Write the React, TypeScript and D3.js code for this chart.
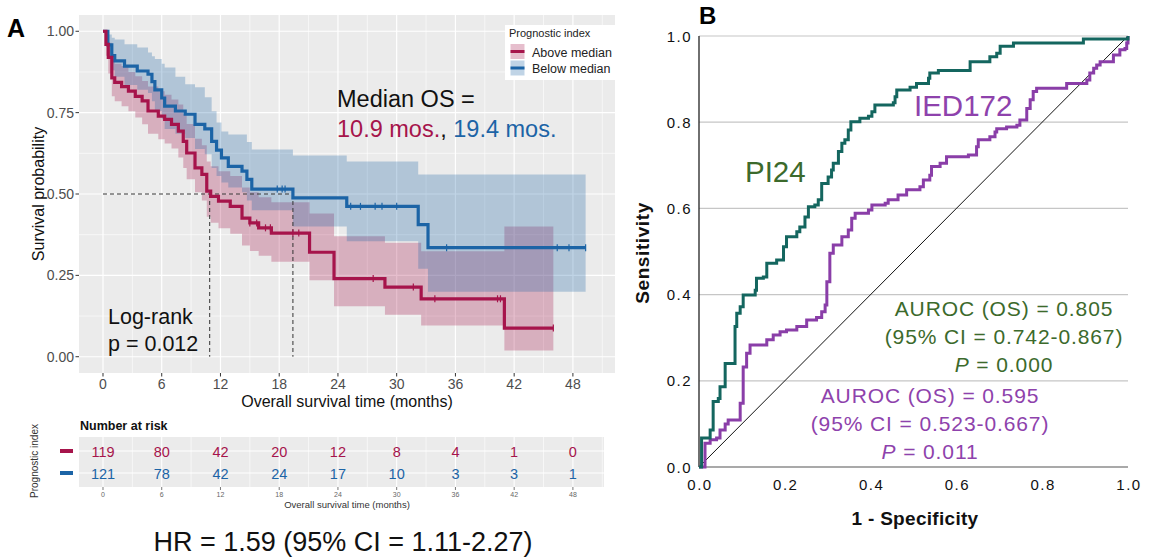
import React, { useEffect, useRef } from 'react';
import * as d3 from 'd3';

const W = 1150;
const H = 558;
const FONT = "'Liberation Sans', Arial, Helvetica, sans-serif";

// ---- Panel A: Kaplan-Meier, prognostic index above / below median ----
const aboveTime = [0, 0.3, 0.54, 0.9, 1.2, 1.9, 2.6, 3.3, 4.0, 4.6, 5.65, 6.3, 7.0, 7.7, 8.2, 8.55, 9.4, 10.1, 10.6, 11.0, 11.8, 13.0, 14.2, 15.0, 15.9, 17.2, 21.1, 23.6, 28.8, 32.5, 41.0, 46.0];
const aboveSurv = [1, 0.96, 0.92, 0.857, 0.843, 0.83, 0.816, 0.8, 0.786, 0.755, 0.739, 0.729, 0.714, 0.693, 0.662, 0.626, 0.58, 0.56, 0.509, 0.493, 0.478, 0.462, 0.426, 0.411, 0.396, 0.38, 0.321, 0.24, 0.214, 0.178, 0.088, 0.088];
const aboveLower = [1, 0.925, 0.87, 0.8, 0.785, 0.77, 0.754, 0.735, 0.714, 0.685, 0.668, 0.655, 0.64, 0.612, 0.58, 0.545, 0.505, 0.48, 0.43, 0.412, 0.395, 0.378, 0.342, 0.325, 0.31, 0.292, 0.235, 0.155, 0.129, 0.096, 0.019, 0.019];
const aboveUpper = [1, 0.99, 0.965, 0.915, 0.9, 0.893, 0.875, 0.862, 0.847, 0.83, 0.816, 0.805, 0.79, 0.775, 0.745, 0.715, 0.67, 0.65, 0.6, 0.585, 0.57, 0.555, 0.52, 0.505, 0.49, 0.475, 0.44, 0.37, 0.35, 0.324, 0.4, 0.4];
const aboveCensor = [15.0, 15.7, 16.6, 17.1, 19.4, 20.0, 27.6, 31.7, 33.9, 40.3, 40.6, 46.0];

const belowTime = [0, 0.5, 0.9, 1.2, 2.2, 3.5, 4.6, 5.0, 5.3, 6.0, 6.3, 7.4, 8.4, 9.4, 10.4, 11.1, 11.6, 12.1, 12.8, 14.2, 14.7, 15.2, 19.4, 24.9, 32.2, 33.2, 49.3];
const belowSurv = [1, 0.958, 0.925, 0.909, 0.893, 0.878, 0.868, 0.845, 0.82, 0.795, 0.77, 0.755, 0.745, 0.714, 0.7, 0.662, 0.635, 0.611, 0.585, 0.57, 0.545, 0.515, 0.488, 0.462, 0.406, 0.335, 0.335];
const belowLower = [1, 0.92, 0.88, 0.86, 0.835, 0.82, 0.81, 0.785, 0.755, 0.73, 0.7, 0.685, 0.672, 0.638, 0.622, 0.58, 0.555, 0.535, 0.52, 0.505, 0.48, 0.45, 0.4, 0.355, 0.27, 0.2, 0.2];
const belowUpper = [1, 0.99, 0.98, 0.975, 0.96, 0.95, 0.935, 0.923, 0.915, 0.9, 0.889, 0.86, 0.837, 0.828, 0.797, 0.754, 0.72, 0.692, 0.683, 0.683, 0.66, 0.637, 0.618, 0.6, 0.56, 0.56, 0.56];
const belowCensor = [17.8, 18.3, 18.6, 25.3, 26.3, 27.8, 28.5, 30.0, 35.1, 46.4, 47.6, 49.3];

const medianAbove = 10.9;
const medianBelow = 19.4;

const monthTicks = [0, 6, 12, 18, 24, 30, 36, 42, 48];
const survTicks = [0, 0.25, 0.5, 0.75, 1];
const riskAbove = [119, 80, 42, 20, 12, 8, 4, 1, 0];
const riskBelow = [121, 78, 42, 24, 17, 10, 3, 3, 1];

// ---- Panel B: ROC curves ----
const pi24Fpr = [0, 0.002, 0.006, 0.026, 0.033, 0.045, 0.049, 0.061, 0.084, 0.088, 0.096, 0.103, 0.131, 0.134, 0.15, 0.158, 0.181, 0.197, 0.204, 0.228, 0.235, 0.247, 0.255, 0.27, 0.278, 0.286, 0.301, 0.309, 0.313, 0.325, 0.333, 0.34, 0.348, 0.354, 0.375, 0.395, 0.403, 0.41, 0.453, 0.457, 0.461, 0.492, 0.507, 0.535, 0.538, 0.558, 0.632, 0.678, 0.694, 0.702, 0.733, 0.896, 1.0];
const pi24Tpr = [0, 0, 0.067, 0.086, 0.152, 0.159, 0.186, 0.24, 0.326, 0.357, 0.372, 0.399, 0.41, 0.438, 0.441, 0.473, 0.48, 0.511, 0.534, 0.546, 0.557, 0.58, 0.604, 0.608, 0.62, 0.658, 0.673, 0.689, 0.705, 0.732, 0.751, 0.759, 0.782, 0.801, 0.809, 0.814, 0.824, 0.84, 0.845, 0.859, 0.875, 0.881, 0.89, 0.902, 0.914, 0.92, 0.94, 0.952, 0.96, 0.976, 0.984, 0.993, 1.0];
const iedFpr = [0, 0.006, 0.014, 0.014, 0.026, 0.041, 0.049, 0.061, 0.068, 0.096, 0.103, 0.103, 0.111, 0.119, 0.158, 0.173, 0.189, 0.204, 0.228, 0.251, 0.274, 0.286, 0.294, 0.298, 0.305, 0.313, 0.333, 0.348, 0.356, 0.364, 0.395, 0.403, 0.434, 0.441, 0.464, 0.484, 0.515, 0.523, 0.538, 0.542, 0.562, 0.577, 0.628, 0.647, 0.651, 0.678, 0.69, 0.694, 0.717, 0.741, 0.748, 0.764, 0.772, 0.779, 0.787, 0.857, 0.904, 0.911, 0.92, 0.927, 0.935, 0.966, 0.981, 0.993, 0.997, 1.0];
const iedTpr = [0, 0, 0.035, 0.055, 0.063, 0.067, 0.086, 0.1, 0.109, 0.148, 0.179, 0.232, 0.264, 0.283, 0.295, 0.306, 0.314, 0.318, 0.326, 0.341, 0.347, 0.36, 0.376, 0.43, 0.496, 0.515, 0.534, 0.55, 0.577, 0.589, 0.596, 0.608, 0.612, 0.62, 0.631, 0.643, 0.65, 0.666, 0.677, 0.697, 0.705, 0.72, 0.724, 0.743, 0.759, 0.766, 0.777, 0.785, 0.789, 0.793, 0.805, 0.832, 0.852, 0.871, 0.879, 0.89, 0.898, 0.914, 0.925, 0.933, 0.94, 0.956, 0.968, 0.971, 0.984, 1.0];
const rocTicks = [0, 0.2, 0.4, 0.6, 0.8, 1.0];
const rocTickLabels = ['0.0', '0.2', '0.4', '0.6', '0.8', '1.0'];

const RED = '#A6144B';
const BLUE = '#1C64A6';
const GREEN_LINE = '#14665F';
const PURPLE_LINE = '#8A3EA8';
const GREEN_TEXT = '#3C6A2C';
const PURPLE_TEXT = '#8E42AC';

function drawSurvival(svg) {
    const x = d3.scaleLinear().domain([-2.45, 52.3]).range([79, 615]);
    const y = d3.scaleLinear().domain([-0.05, 1.05]).range([373, 15]);
    const g = svg.append('g').attr('font-family', FONT);

    g.append('rect').attr('x', 79).attr('y', 15).attr('width', 536).attr('height', 358).attr('fill', '#EBEBEB');

    // minor + major grid
    const xMinor = monthTicks.map(t => t + 3).filter(t => x(t) < 615);
    const yMinor = survTicks.slice(1).map(s => s - 0.125);
    g.selectAll('.xmin').data(xMinor).enter().append('line')
        .attr('x1', d => x(d)).attr('x2', d => x(d)).attr('y1', 15).attr('y2', 373)
        .attr('stroke', '#fff').attr('stroke-width', 0.6);
    g.selectAll('.ymin').data(yMinor).enter().append('line')
        .attr('x1', 79).attr('x2', 615).attr('y1', d => y(d)).attr('y2', d => y(d))
        .attr('stroke', '#fff').attr('stroke-width', 0.6);
    g.selectAll('.xmaj').data(monthTicks).enter().append('line')
        .attr('x1', d => x(d)).attr('x2', d => x(d)).attr('y1', 15).attr('y2', 373)
        .attr('stroke', '#fff').attr('stroke-width', 1.2);
    g.selectAll('.ymaj').data(survTicks).enter().append('line')
        .attr('x1', 79).attr('x2', 615).attr('y1', d => y(d)).attr('y2', d => y(d))
        .attr('stroke', '#fff').attr('stroke-width', 1.2);

    const groups = [
        { time: aboveTime, surv: aboveSurv, lo: aboveLower, hi: aboveUpper, censor: aboveCensor, color: RED },
        { time: belowTime, surv: belowSurv, lo: belowLower, hi: belowUpper, censor: belowCensor, color: BLUE },
    ];

    const area = d3.area()
        .x(d => x(d.t)).y0(d => y(d.lo)).y1(d => y(d.hi))
        .curve(d3.curveStepAfter);
    const line = d3.line()
        .x(d => x(d.t)).y(d => y(d.s))
        .curve(d3.curveStepAfter);

    groups.forEach(gr => {
        const rows = gr.time.map((t, i) => ({ t, s: gr.surv[i], lo: gr.lo[i], hi: gr.hi[i] }));
        g.append('path').attr('d', area(rows)).attr('fill', gr.color).attr('fill-opacity', 0.28);
    });

    // median lines
    const dash = '4,3';
    g.append('line').attr('x1', x(0)).attr('x2', x(medianBelow)).attr('y1', y(0.5)).attr('y2', y(0.5))
        .attr('stroke', '#333').attr('stroke-width', 1).attr('stroke-dasharray', dash);
    [medianAbove, medianBelow].forEach(m => {
        g.append('line').attr('x1', x(m)).attr('x2', x(m)).attr('y1', y(0.5)).attr('y2', y(0))
            .attr('stroke', '#333').attr('stroke-width', 1).attr('stroke-dasharray', dash);
    });

    groups.slice().reverse().forEach(gr => {
        const rows = gr.time.map((t, i) => ({ t, s: gr.surv[i] }));
        g.append('path').attr('d', line(rows)).attr('fill', 'none')
            .attr('stroke', gr.color).attr('stroke-width', 3.2);
        gr.censor.forEach(c => {
            const idx = d3.bisectRight(gr.time, c) - 1;
            const s = gr.surv[Math.max(0, idx)];
            g.append('line').attr('x1', x(c)).attr('x2', x(c)).attr('y1', y(s) - 3.5).attr('y2', y(s) + 3.5)
                .attr('stroke', gr.color).attr('stroke-width', 1.2);
        });
    });

    // axes
    g.selectAll('.yt').data(survTicks).enter().append('line')
        .attr('x1', 75.5).attr('x2', 79).attr('y1', d => y(d)).attr('y2', d => y(d))
        .attr('stroke', '#333').attr('stroke-width', 1);
    g.selectAll('.ytl').data(survTicks).enter().append('text')
        .attr('x', 74).attr('y', d => y(d) + 5).attr('text-anchor', 'end')
        .attr('font-size', 14).attr('fill', '#4D4D4D').text(d => d.toFixed(2));
    g.selectAll('.xt').data(monthTicks).enter().append('line')
        .attr('x1', d => x(d)).attr('x2', d => x(d)).attr('y1', 373).attr('y2', 376.5)
        .attr('stroke', '#333').attr('stroke-width', 1);
    g.selectAll('.xtl').data(monthTicks).enter().append('text')
        .attr('x', d => x(d)).attr('y', 389).attr('text-anchor', 'middle')
        .attr('font-size', 14).attr('fill', '#4D4D4D').text(d => d);
    g.append('text').attr('x', 347).attr('y', 407).attr('text-anchor', 'middle')
        .attr('font-size', 16).attr('fill', '#111').text('Overall survival time (months)');
    g.append('text').attr('transform', 'translate(44,194) rotate(-90)').attr('text-anchor', 'middle')
        .attr('font-size', 16).attr('fill', '#111').text('Survival probability');

    // legend
    g.append('rect').attr('x', 505).attr('y', 25).attr('width', 110).attr('height', 55).attr('fill', '#fff');
    g.append('text').attr('x', 509).attr('y', 36.5).attr('font-size', 11).attr('fill', '#222').text('Prognostic index');
    [{ label: 'Above median', c: RED, yy: 44 }, { label: 'Below median', c: BLUE, yy: 60.5 }].forEach(k => {
        g.append('rect').attr('x', 510.5).attr('y', k.yy).attr('width', 14).attr('height', 15)
            .attr('fill', k.c).attr('fill-opacity', 0.28);
        g.append('line').attr('x1', 510.5).attr('x2', 524.5).attr('y1', k.yy + 7.5).attr('y2', k.yy + 7.5)
            .attr('stroke', k.c).attr('stroke-width', 3);
        g.append('text').attr('x', 532).attr('y', k.yy + 12.5).attr('font-size', 12.5).attr('fill', '#222').text(k.label);
    });

    // annotations
    g.append('text').attr('x', 337).attr('y', 107).attr('font-size', 23.5).attr('fill', '#111').text('Median OS =');
    const med = g.append('text').attr('x', 337).attr('y', 137).attr('font-size', 23.5);
    med.append('tspan').attr('fill', RED).text(`${medianAbove} mos.`);
    med.append('tspan').attr('fill', '#111').text(', ');
    med.append('tspan').attr('fill', BLUE).text(`${medianBelow} mos.`);
    g.append('text').attr('x', 108).attr('y', 324).attr('font-size', 21.5).attr('fill', '#111').text('Log-rank');
    g.append('text').attr('x', 108).attr('y', 351).attr('font-size', 21.5).attr('fill', '#111').text('p = 0.012');

    g.append('text').attr('x', 7).attr('y', 37).attr('font-size', 25).attr('font-weight', 'bold').attr('fill', '#000').text('A');

    // risk table
    const top = 437, bottom = 487;
    g.append('rect').attr('x', 79).attr('y', top).attr('width', 525).attr('height', bottom - top).attr('fill', '#EBEBEB');
    const rowY = [451, 473];
    g.selectAll('.rmin').data(monthTicks.map(t => t + 3).filter(t => x(t) < 604)).enter().append('line')
        .attr('x1', d => x(d)).attr('x2', d => x(d)).attr('y1', top).attr('y2', bottom)
        .attr('stroke', '#fff').attr('stroke-width', 0.6);
    g.selectAll('.rmaj').data(monthTicks).enter().append('line')
        .attr('x1', d => x(d)).attr('x2', d => x(d)).attr('y1', top).attr('y2', bottom)
        .attr('stroke', '#fff').attr('stroke-width', 1.1);
    g.selectAll('.rrow').data(rowY).enter().append('line')
        .attr('x1', 79).attr('x2', 604).attr('y1', d => d).attr('y2', d => d)
        .attr('stroke', '#fff').attr('stroke-width', 1.1);
    [{ vals: riskAbove, c: RED }, { vals: riskBelow, c: BLUE }].forEach((r, i) => {
        g.append('line').attr('x1', 60).attr('x2', 73).attr('y1', rowY[i]).attr('y2', rowY[i])
            .attr('stroke', r.c).attr('stroke-width', 4);
        g.selectAll(`.rv${i}`).data(r.vals).enter().append('text')
            .attr('x', (d, j) => x(monthTicks[j])).attr('y', rowY[i] + 5.5).attr('text-anchor', 'middle')
            .attr('font-size', 14.5).attr('fill', r.c).text(d => d);
    });
    g.append('text').attr('x', 80).attr('y', 430).attr('font-size', 12.5).attr('font-weight', 'bold')
        .attr('fill', '#111').text('Number at risk');
    g.selectAll('.rt').data(monthTicks).enter().append('line')
        .attr('x1', d => x(d)).attr('x2', d => x(d)).attr('y1', bottom).attr('y2', bottom + 3)
        .attr('stroke', '#555').attr('stroke-width', 0.8);
    g.selectAll('.rtl').data(monthTicks).enter().append('text')
        .attr('x', d => x(d)).attr('y', 497).attr('text-anchor', 'middle')
        .attr('font-size', 7).attr('fill', '#666').text(d => d);
    g.append('text').attr('x', 347).attr('y', 508).attr('text-anchor', 'middle')
        .attr('font-size', 9.5).attr('fill', '#333').text('Overall survival time (months)');
    g.append('text').attr('transform', 'translate(38,461) rotate(-90)').attr('text-anchor', 'middle')
        .attr('font-size', 10).attr('fill', '#333').text('Prognostic index');

    g.append('text').attr('x', 343).attr('y', 551).attr('text-anchor', 'middle')
        .attr('font-size', 27).attr('fill', '#111').text('HR = 1.59 (95% CI = 1.11-2.27)');
}

function drawRoc(svg) {
    const x = d3.scaleLinear().domain([0, 1]).range([699, 1128]);
    const y = d3.scaleLinear().domain([0, 1]).range([467, 36]);
    const g = svg.append('g').attr('font-family', FONT);

    g.selectAll('.grid').data(rocTicks.slice(1)).enter().append('line')
        .attr('x1', x(0)).attr('x2', x(1)).attr('y1', d => y(d)).attr('y2', d => y(d))
        .attr('stroke', '#C6C6C6').attr('stroke-width', 1.2);
    g.append('line').attr('x1', x(0)).attr('x2', x(1)).attr('y1', y(0)).attr('y2', y(0))
        .attr('stroke', '#8C8C8C').attr('stroke-width', 1.5);
    g.append('line').attr('x1', x(0)).attr('x2', x(0)).attr('y1', y(1)).attr('y2', y(0))
        .attr('stroke', '#222').attr('stroke-width', 1.3);
    g.append('line').attr('x1', x(0)).attr('x2', x(1)).attr('y1', y(0)).attr('y2', y(1))
        .attr('stroke', '#111').attr('stroke-width', 1);

    const line = d3.line().x(d => x(d[0])).y(d => y(d[1])).curve(d3.curveStepAfter);
    g.append('path').attr('d', line(iedFpr.map((f, i) => [f, iedTpr[i]])))
        .attr('fill', 'none').attr('stroke', PURPLE_LINE).attr('stroke-width', 3);
    g.append('path').attr('d', line(pi24Fpr.map((f, i) => [f, pi24Tpr[i]])))
        .attr('fill', 'none').attr('stroke', GREEN_LINE).attr('stroke-width', 3);

    g.selectAll('.ytl').data(rocTicks).enter().append('text')
        .attr('x', 692).attr('y', d => y(d) + 5.5).attr('text-anchor', 'end')
        .attr('font-size', 15).attr('letter-spacing', 1.5).attr('fill', '#111')
        .text((d, i) => rocTickLabels[i]);
    g.selectAll('.xtl').data(rocTicks).enter().append('text')
        .attr('x', d => x(d) + 1).attr('y', 490).attr('text-anchor', 'middle')
        .attr('font-size', 15).attr('letter-spacing', 1.5).attr('fill', '#111')
        .text((d, i) => rocTickLabels[i]);
    g.append('text').attr('x', 915).attr('y', 525).attr('text-anchor', 'middle')
        .attr('font-size', 19).attr('letter-spacing', 0.3).attr('font-weight', 'bold').attr('fill', '#111').text('1 - Specificity');
    g.append('text').attr('transform', 'translate(649,253) rotate(-90)').attr('text-anchor', 'middle')
        .attr('font-size', 19).attr('letter-spacing', 0.6).attr('font-weight', 'bold').attr('fill', '#111').text('Sensitivity');

    g.append('text').attr('x', 745).attr('y', 181.5).attr('font-size', 29.5).attr('fill', GREEN_TEXT).text('PI24');
    g.append('text').attr('x', 914).attr('y', 116).attr('font-size', 29.5).attr('fill', PURPLE_TEXT).text('IED172');

    const block = (cx, y0, color, auc, ci, p) => {
        const lines = [`AUROC (OS) = ${auc}`, `(95% CI = ${ci})`];
        lines.forEach((t, i) => {
            g.append('text').attr('x', cx).attr('y', y0 + i * 28).attr('text-anchor', 'middle')
                .attr('font-size', 21).attr('letter-spacing', 0.9).attr('fill', color).text(t);
        });
        const pt = g.append('text').attr('x', cx).attr('y', y0 + 56).attr('text-anchor', 'middle')
            .attr('font-size', 21).attr('letter-spacing', 0.9).attr('fill', color);
        pt.append('tspan').attr('font-style', 'italic').text('P');
        pt.append('tspan').text(` = ${p}`);
    };
    block(1004, 316, GREEN_TEXT, '0.805', '0.742-0.867', '0.000');
    block(930, 403, PURPLE_TEXT, '0.595', '0.523-0.667', '0.011');

    g.append('text').attr('x', 699).attr('y', 24).attr('font-size', 24).attr('font-weight', 'bold').attr('fill', '#000').text('B');
}

export default function App() {
    const svgRef = useRef(null);

    useEffect(() => {
        if (!svgRef.current) return;
        const svg = d3.select(svgRef.current);
        svg.selectAll('*').remove();
        drawSurvival(svg);
        drawRoc(svg);
    }, []);

    return (
        <svg ref={svgRef} width={W} height={H}
            style={{ position: 'absolute', left: 0, top: 0, background: '#fff' }} />
    );
}
